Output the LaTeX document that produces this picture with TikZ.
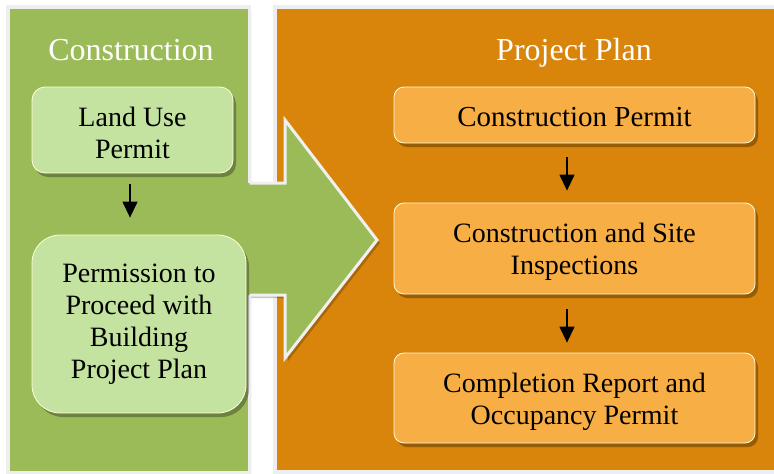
\documentclass[tikz,border=0pt]{standalone}
\usepackage{fontspec}
\setmainfont{Liberation Serif}
\usetikzlibrary{shadows,arrows.meta}
\definecolor{panelgreen}{HTML}{9BBB59}
\definecolor{boxgreen}{HTML}{C4E3A0}
\definecolor{panelorange}{HTML}{D9840A}
\definecolor{boxorange}{HTML}{F7AE45}
\definecolor{rimgray}{HTML}{EEEEEE}
\tikzset{
  boxbase/.style={draw=white!85!yellow, line width=0.8pt, inner sep=0pt,
    drop shadow={shadow xshift=3pt, shadow yshift=-4pt, opacity=0.3, fill=black}},
  gbox/.style={boxbase, fill=boxgreen},
  obox/.style={boxbase, fill=boxorange, rounded corners=10pt, minimum width=361pt},
  txt/.style={align=center, inner sep=0pt, font=\fontsize{28}{32}\selectfont},
  title/.style={text=white, font=\fontsize{32}{36}\selectfont, inner sep=0pt, anchor=base},
  flow/.style={-{Triangle[length=16pt,width=15pt]}, line width=1.3pt, black},
}
\begin{document}
\begin{tikzpicture}[x=1pt,y=-1pt]
\useasboundingbox (0,0) rectangle (774,474);
\begin{scope}
\clip (0,0) rectangle (774,474);
\fill[white] (0,0) rectangle (774,474);
% orange panel
\draw[rimgray, line width=4pt, fill=panelorange] (274.5,6.5) rectangle (800,472);
% shadow of green panel + arrow
\fill[black, opacity=0.22, shift={(3,3)}]
  (10,9) -- (248,9) -- (248,183) -- (285,183) -- (285,120) -- (377,240)
  -- (285,358) -- (285,295) -- (248,295) -- (248,471) -- (10,471) -- cycle;
% green panel
\draw[rimgray, line width=3.5pt, fill=panelgreen] (8,7) rectangle (249.5,472.5);
% big arrow
\fill[panelgreen] (245,183) -- (285,183) -- (285,120) -- (377,240)
  -- (285,358) -- (285,295) -- (245,295) -- cycle;
\draw[white!94!black, line width=3pt, line join=miter]
  (249.5,183) -- (285,183) -- (285,120) -- (377,240)
  -- (285,358) -- (285,295) -- (249.5,295);
\end{scope}
% titles
\node[title] (t1) at (131,60) {Construction};
\node[title] (t2) at (574,60) {Project Plan};
% left boxes
\node[gbox, rounded corners=13pt, minimum width=201pt, minimum height=86pt] (l1) at (132.5,130) {};
\node[txt] (l1t) at (132.5,132.5) {Land Use\\Permit};
\node[gbox, rounded corners=28pt, minimum width=214pt, minimum height=178pt] (l2) at (139,324) {};
\node[txt] (l2t) at (139,324) {Permission to\\Proceed with\\Building\\Project Plan};
% right boxes
\node[obox, minimum height=56pt] (r1) at (574.5,115) {};
\node[txt, font=\fontsize{29}{33}\selectfont] (r1t) at (574.5,117) {Construction Permit};
\node[obox, minimum height=91pt] (r2) at (574.5,248.5) {};
\node[txt] (r2t) at (574.5,252) {Construction and Site\\Inspections};
\node[obox, minimum height=90pt] (r3) at (574.5,398) {};
\node[txt] (r3t) at (574.5,401.5) {Completion Report and\\Occupancy Permit};
% connectors
\draw[flow, shorten <=11pt, shorten >=17pt] (l1.south -| 130,0) -- (l2.north -| 130,0);
\draw[flow, shorten <=14pt, shorten >=12pt] (r1.south -| 567,0) -- (r2.north -| 567,0);
\draw[flow, shorten <=15pt, shorten >=10pt] (r2.south -| 567,0) -- (r3.north -| 567,0);
\end{tikzpicture}
\end{document}
